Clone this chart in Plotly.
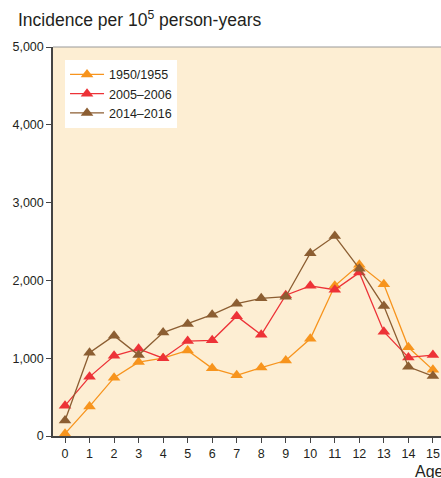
import plotly.graph_objects as go

ages = list(range(16))
tick_labels = [str(a) for a in ages]
s1950 = [30, 380, 750, 950, 1000, 1100, 870, 780, 880, 970, 1250, 1930, 2200, 1950, 1140, 850]
s2005 = [390, 760, 1030, 1120, 1000, 1220, 1230, 1540, 1300, 1810, 1930, 1880, 2100, 1340, 1010, 1040]
s2014 = [200, 1070, 1290, 1040, 1330, 1440, 1560, 1700, 1770, 1790, 2350, 2570, 2150, 1670, 890, 770]
names = ["1950/1955", "2005\u20132006", "2014\u20132016"]
colors = ["#F7941D", "#ED3237", "#8C5E32"]

fig = go.Figure()
for name, vals, col in zip(names, [s1950, s2005, s2014], colors):
    fig.add_trace(go.Scatter(
        x=ages, y=vals, name=name, mode="lines+markers",
        line=dict(color=col, width=1.3),
        marker=dict(symbol="triangle-up", size=11, color=col),
        cliponaxis=False,
    ))

fig.update_layout(
    width=441, height=478,
    margin=dict(l=53, r=0, t=47, b=42),
    paper_bgcolor="white", plot_bgcolor="#FDEED3",
    font=dict(family="Liberation Sans, Arial, sans-serif", size=12.5, color="#231F20"),
    showlegend=True,
    legend=dict(x=0.031, y=0.967, xanchor="left", yanchor="top",
                bgcolor="white", borderwidth=0, font=dict(size=12.5),
                tracegroupgap=0, itemwidth=34),
    xaxis=dict(range=[-0.49, 15.33], tickmode="array", tickvals=ages, ticktext=tick_labels,
               showgrid=False, zeroline=False, showline=True, linecolor="#444", linewidth=1.5,
               ticks="outside", ticklen=5, tickcolor="#444", tickfont=dict(size=12.5)),
    yaxis=dict(range=[0, 5000], tickvals=[0, 1000, 2000, 3000, 4000, 5000],
               ticktext=["0", "1,000", "2,000", "3,000", "4,000", "5,000"],
               showgrid=False, zeroline=False, showline=True, linecolor="#444", linewidth=1.5,
               ticks="outside", ticklen=5, tickcolor="#444", tickfont=dict(size=12.5)),
    shapes=[dict(type="line", xref="paper", yref="paper", x0=0, x1=1, y0=1, y1=1,
                 line=dict(color="#999", width=1))],
    annotations=[
        dict(text="Incidence per 10<sup>5</sup> person-years", xref="paper", yref="paper",
             x=-0.095, y=1.072, xanchor="left", yanchor="middle", showarrow=False,
             font=dict(size=17.5, color="#231F20")),
        dict(text="Age (years)", xref="paper", yref="paper",
             x=0.928, y=-0.09, xanchor="left", yanchor="middle", showarrow=False,
             font=dict(size=16, color="#231F20")),
    ],
)

fig.write_html("out.html", config={"displayModeBar": False},
               post_script="document.body.style.margin='0';document.body.style.overflow='hidden';")
